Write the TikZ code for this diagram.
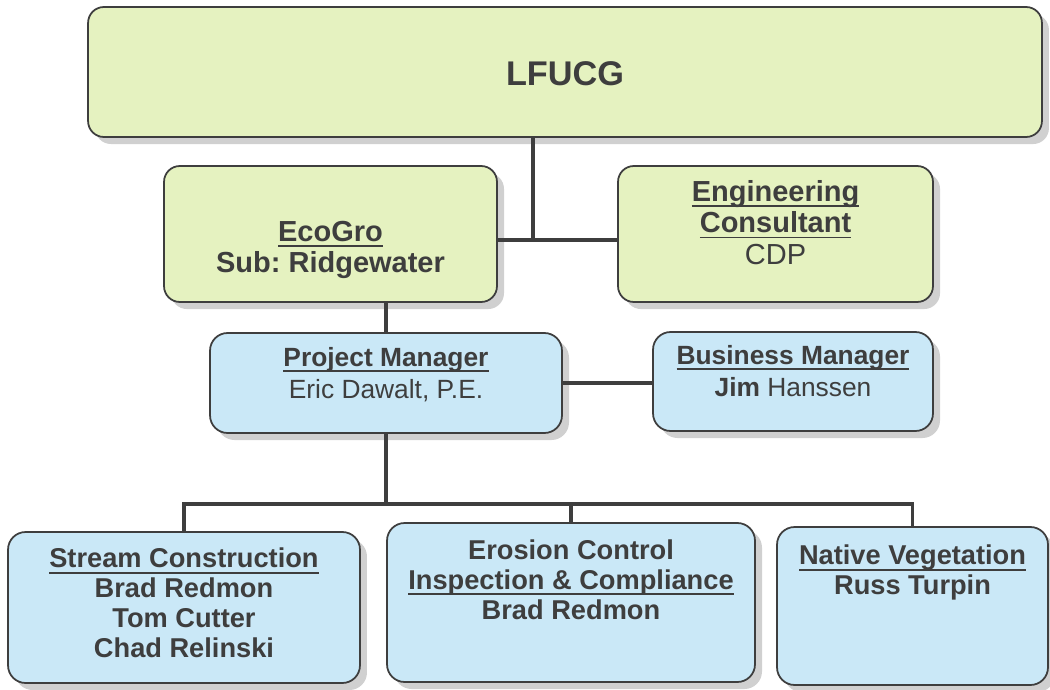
\documentclass[tikz,border=0pt]{standalone}
\usepackage{fontspec}
\setmainfont{Liberation Sans}
\usetikzlibrary{positioning,shadows}
\definecolor{grn}{RGB}{229,242,192}
\definecolor{blu}{RGB}{202,232,247}
\definecolor{ink}{RGB}{62,62,62}
\frenchspacing
\newsavebox{\ulbox}
\newcommand{\uln}[1]{\leavevmode\sbox\ulbox{#1}\rlap{\vrule width\wd\ulbox height -2.2pt depth 3.3pt}\usebox\ulbox}
\newcommand{\orgbox}[4]{\parbox[c][#2][t]{#1}{\centering\vspace*{#3}#4}}
\tikzstyle{G} = [rectangle,
			draw=ink, fill=grn, line width=1pt,
			rounded corners=9pt, inner sep=0pt, text=ink,
			font=\fontsize{16.5}{18}\selectfont\bfseries,
			drop shadow={shadow xshift=4pt, shadow yshift=-4pt, fill=black!30, opacity=.6}]
\tikzstyle{B} = [rectangle,
			draw=ink, fill=blu, line width=1pt,
			rounded corners=10pt, inner sep=0pt, text=ink,
			font=\fontsize{15}{18.5}\selectfont,
			drop shadow={shadow xshift=4pt, shadow yshift=-4pt, fill=black!30, opacity=.6}]
\tikzstyle{L} = [draw=ink, line width=2pt]

\begin{document}
\begin{tikzpicture}[x=0.02cm, y=-0.02cm]

\useasboundingbox [fill=white] (0,0) rectangle (1050,689);

\node [G, font=\fontsize{19.5}{23}\selectfont\bfseries]
(lfucg) at (565,72)
	{\orgbox{19.08cm}{2.6cm}{1.1cm}{LFUCG}};

\node [G]
(eco) at (330.5,234)
	{\orgbox{6.66cm}{2.72cm}{1.1cm}{\uln{EcoGro}\\Sub: Ridgewater}};

\node [G]
(eng) at (775.5,234)
	{\orgbox{6.3cm}{2.72cm}{0.28cm}{\uln{Engineering}\\\uln{Consultant}\\\mdseries CDP}};

\node [B]
(pm) at (386,383)
	{\orgbox{7.04cm}{2cm}{0.28cm}{\uln{\textbf{Project Manager}}\\Eric Dawalt, P.E.}};

\node [B]
(bm) at (793,381.5)
	{\orgbox{5.6cm}{1.98cm}{0.26cm}{\uln{\textbf{Business Manager}}\\\textbf{Jim} Hanssen}};

% bottom row
\node [B, font=\fontsize{15.5}{17}\selectfont\bfseries]
(sc) at (184,607.5)
	{\orgbox{7.04cm}{3.02cm}{0.32cm}{\uln{Stream Construction}\\Brad Redmon\\Tom Cutter\\Chad Relinski}};

\node [B, font=\fontsize{15.5}{17}\selectfont\bfseries]
(ec) at (571,602.5)
	{\orgbox{7.36cm}{3.18cm}{0.34cm}{Erosion Control\\\uln{Inspection \& Compliance}\\Brad Redmon}};

\node [B, font=\fontsize{15.5}{17}\selectfont\bfseries]
(nv) at (912.5,606)
	{\orgbox{5.42cm}{3.16cm}{0.36cm}{\uln{Native Vegetation}\\Russ Turpin}};

\coordinate (top) at (533,240);
\coordinate (bus) at (386,504);

\path[L] (lfucg.south -| top) -- (top);

\path[L] (eco.east |- top) -- (eng.west |- top);

\path[L] (eco.south -| pm.north) -- (pm.north);

\path[L] (pm.east) -- (bm.west |- pm.east);

\path[L] (pm.south) -- (bus);

\path[L] (sc.north) |- (bus) -| (nv.north);

\path[L] (ec.north) -- (ec.north |- bus);

\end{tikzpicture}
\end{document}
